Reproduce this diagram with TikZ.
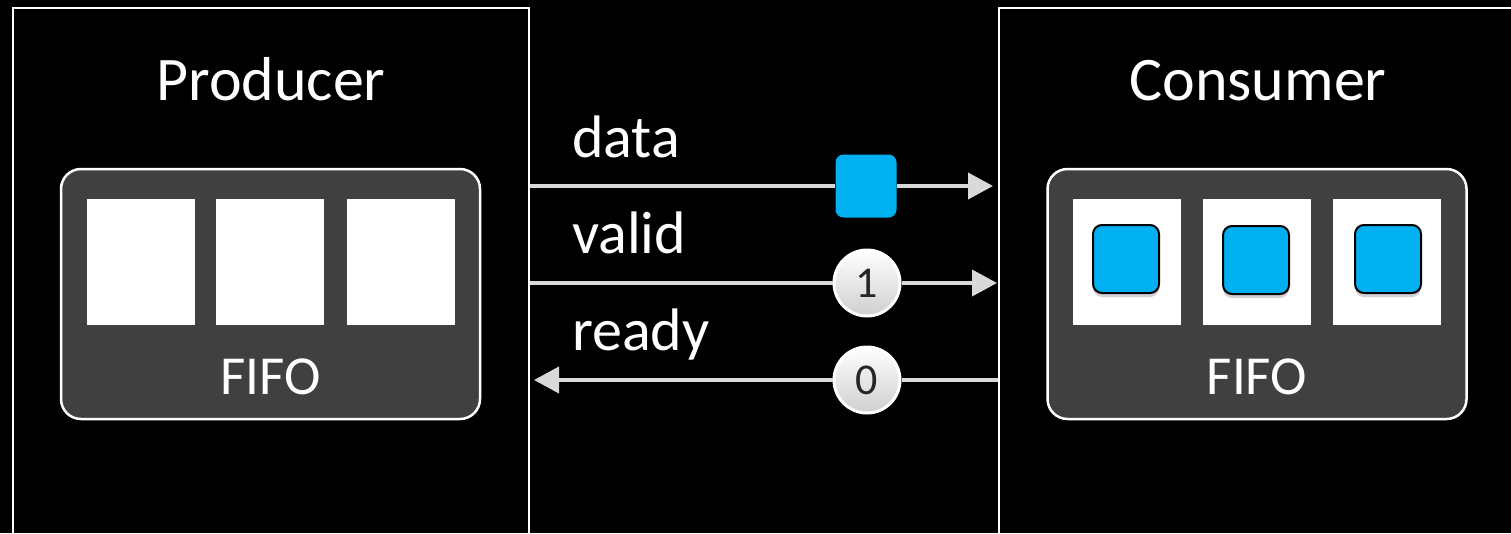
\documentclass[tikz,border=0pt]{standalone}
\usepackage{fontspec}
\setmainfont{Carlito}
\usetikzlibrary{arrows.meta,shadows}
\definecolor{fifogray}{HTML}{404040}
\definecolor{wire}{HTML}{D9D9D9}
\definecolor{pktblue}{HTML}{00B0F0}
\definecolor{ballgray}{HTML}{CFCFCF}
\begin{document}
\begin{tikzpicture}[x=1pt,y=-1pt,
  frame/.style={draw=white,line width=2pt,inner sep=0pt,anchor=north west},
  title/.style={text=white,font=\fontsize{62}{62}\selectfont,anchor=base,inner sep=0pt},
  siglabel/.style={text=white,font=\fontsize{60}{60}\selectfont,anchor=base west,inner sep=0pt},
  fifo/.style={draw=white,fill=fifogray,line width=2.5pt,rounded corners=20pt,
    minimum width=419pt,minimum height=250pt,inner sep=0pt},
  fifolabel/.style={text=white,font=\fontsize{55}{55}\selectfont,anchor=base,inner sep=0pt},
  slot/.style={fill=white,minimum width=108pt,minimum height=126pt,inner sep=0pt},
  packet/.style={fill=pktblue,rounded corners=9pt,minimum width=66pt,minimum height=68pt,inner sep=0pt},
  stored/.style={packet,draw=black,line width=2pt,
    drop shadow={shadow xshift=0pt,shadow yshift=-4pt,opacity=0.35}},
  ball/.style={circle,draw=white,line width=3pt,top color=white,bottom color=ballgray,
    minimum size=66pt,inner sep=0pt,font=\fontsize{44}{44}\selectfont,text=black!85},
  sig/.style={draw=wire,line width=4pt,-{Triangle[length=25pt,width=26pt]}},
  wireline/.style={draw=wire,line width=4pt}]
\fill[black] (0,0) rectangle (1511,533);
\clip (0,0) rectangle (1511,533);

% producer and consumer frames (running off the bottom edge)
\node[frame,minimum width=516pt,minimum height=560pt] (prod) at (12,7) {};
\node[frame,minimum width=540pt,minimum height=560pt] (cons) at (998,7) {};
\node[title] (prodT) at (271,100) {Producer};
\node[title] (consT) at (1258,100) {Consumer};

% producer FIFO: three empty slots
\node[fifo] (pfifo) at (270.5,294) {};
\node[slot] (ps1) at (141,262) {};
\node[slot] (ps2) at (270,262) {};
\node[slot] (ps3) at (401,262) {};
\node[fifolabel] (pfifoT) at (270.5,394) {FIFO};

% consumer FIFO: three slots holding packets
\node[fifo] (cfifo) at (1257,294) {};
\node[slot] (cs1) at (1127,262) {};
\node[slot] (cs2) at (1257,262) {};
\node[slot] (cs3) at (1387,262) {};
\node[stored] (cp1) at (1126,259) {};
\node[stored] (cp2) at (1256,260) {};
\node[stored] (cp3) at (1388,259) {};
\node[fifolabel] (cfifoT) at (1257,394) {FIFO};

% handshake signals
\node[siglabel] (dataT) at (572,157) {data};
\node[siglabel] (validT) at (572,253) {valid};
\node[siglabel] (readyT) at (572,350) {ready};

\node[packet,minimum width=61pt,minimum height=63pt,rounded corners=8pt] (pkt) at (866,186) {};
\node[ball] (vbit) at (867,283) {1};
\node[ball] (rbit) at (867,380) {0};

\draw[wireline] (prod.east |- pkt) -- (pkt.west);
\draw[sig,shorten >=5pt] (pkt.east) -- (cons.west |- pkt);
\draw[wireline] (prod.east |- vbit) -- (vbit.west);
\draw[sig,shorten >=1pt] (vbit.east) -- (cons.west |- vbit);
\draw[wireline] (cons.west |- rbit) -- (rbit.east);
\draw[sig,shorten >=4pt] (rbit.west) -- (prod.east |- rbit);
\end{tikzpicture}
\end{document}
